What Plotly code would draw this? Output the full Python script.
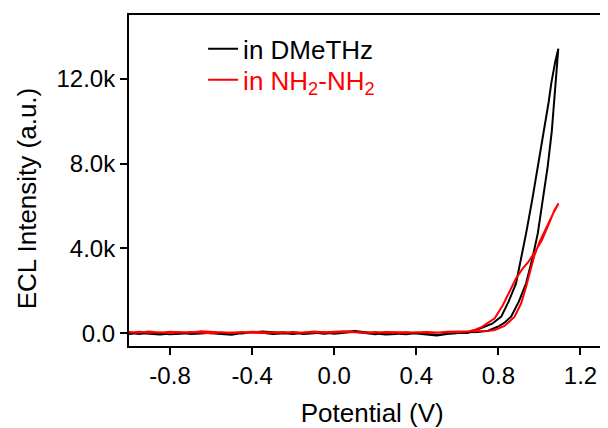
import plotly.graph_objects as go

# ---------------- data ----------------
# baseline potentials (V), ascending
base_v = [-1.0, -0.95, -0.9, -0.85, -0.8, -0.75, -0.7, -0.65, -0.6, -0.55,
          -0.5, -0.45, -0.4, -0.35, -0.3, -0.25, -0.2, -0.15, -0.1, -0.05,
          0.0, 0.05, 0.1, 0.15, 0.2, 0.25, 0.3, 0.35, 0.4, 0.45,
          0.5, 0.55, 0.6, 0.65]

# DMeTHz (black) – forward scan baseline, then rising part
dm_fwd_base = [20, -30, 40, 10, -50, -20, 30, 60, 0, -40,
               -70, 10, 40, 80, 50, 0, -30, 20, 40, -20,
               10, 60, 110, 50, -20, -60, -30, 30, -10, -70,
               -100, -40, 20, 50]
dm_fwd_rise_v = [0.70, 0.75, 0.80, 0.83, 0.862, 0.90, 0.935, 0.965, 0.992,
                 1.015, 1.040, 1.06, 1.073, 1.082, 1.092]
dm_fwd_rise_i = [60, 120, 320, 500, 784, 1500, 2353, 3500, 4706,
                 6200, 7840, 9500, 10980, 12235, 13410]
# reverse scan (descending potential)
dm_rev_fall_v = [1.077, 1.058, 1.045, 1.02, 0.992, 0.965, 0.935, 0.91, 0.886,
                 0.85, 0.814, 0.77, 0.717, 0.68]
dm_rev_fall_i = [12800, 11800, 10900, 9400, 7840, 6300, 4706, 3500, 2353,
                 1500, 784, 450, 235, 110]
dm_rev_base = [-40, 10, -20, -60, 0, 30, -30, -10, 20, -20,
               30, -10, 60, 20, -40, -10, 30, -30, 0, 40,
               -20, 30, 70, 10, -40, 20, -20, -50, 10, -40,
               -80, -20, 30, 10]

# NH2-NH2 (red)
hz_fwd_base = [60, 40, 80, 30, 70, 40, 20, 90, 60, 30,
               10, 40, 70, 50, 30, 60, 20, 40, 80, 50,
               70, 90, 60, 40, 30, 60, 50, 20, 40, 60,
               30, 70, 80, 100]
hz_fwd_rise_v = [0.70, 0.749, 0.782, 0.83, 0.879, 0.911, 0.935, 0.956,
                 0.975, 1.0, 1.04, 1.067, 1.093]
hz_fwd_rise_i = [100, 108, 155, 343, 781, 1412, 2193, 2979,
                 3650, 4300, 5150, 5650, 6120]
hz_rev_fall_v = [1.073, 1.05, 1.01, 0.975, 0.945, 0.919, 0.886, 0.854,
                 0.822, 0.782, 0.749, 0.72, 0.69]
hz_rev_fall_i = [5800, 5250, 4350, 3800, 3350, 3059, 2588, 1957,
                 1332, 706, 470, 300, 180]
hz_rev_base = [30, 70, 20, 50, 10, 40, 60, 30, 0, 50,
               20, 60, 30, 10, 40, 20, 60, 30, 50, 20,
               40, 70, 50, 30, 60, 20, 40, 10, 50, 30,
               20, 50, 60, 70]

x_tick_vals = [-0.8, -0.4, 0.0, 0.4, 0.8, 1.2]
x_tick_text = ["-0.8", "-0.4", "0.0", "0.4", "0.8", "1.2"]
y_tick_vals = [0, 4000, 8000, 12000]
y_tick_text = ["0.0", "4.0k", "8.0k", "12.0k"]

names = ["in DMeTHz",
         '<span style="color:#ff0000">in NH<sub>2</sub>-NH<sub>2</sub></span>']

# assemble closed CV loops
dm_x = base_v + dm_fwd_rise_v + dm_rev_fall_v + base_v[::-1]
dm_y = dm_fwd_base + dm_fwd_rise_i + dm_rev_fall_i + dm_rev_base[::-1]
hz_x = base_v + hz_fwd_rise_v + hz_rev_fall_v + base_v[::-1]
hz_y = hz_fwd_base + hz_fwd_rise_i + hz_rev_fall_i + hz_rev_base[::-1]

fig = go.Figure()
fig.add_trace(go.Scatter(x=dm_x, y=dm_y, mode="lines", name=names[0],
                         line=dict(color="#000000", width=2), legend="legend"))
fig.add_trace(go.Scatter(x=hz_x, y=hz_y, mode="lines", name=names[1],
                         line=dict(color="#ff0000", width=2), legend="legend2"))

axis_common = dict(showline=True, linecolor="black", linewidth=2, mirror=True,
                   ticks="outside", ticklen=7, tickwidth=2, tickcolor="black",
                   showgrid=False, zeroline=False,
                   tickfont=dict(size=24, color="black"))

# non-breaking padding (kept from trimming by a zero-width space) nudges the
# centred axis titles to where the reference has them
NB = "\u00a0"
ZW = "\u200b"
fig.update_xaxes(range=[-1.0, 1.3], tickvals=x_tick_vals, ticktext=x_tick_text,
                 title=dict(text=ZW + NB * 2 + "Potential (V)", font=dict(size=26), standoff=16),
                 **axis_common)
fig.update_yaxes(range=[-600, 15000], tickvals=y_tick_vals, ticktext=y_tick_text,
                 title=dict(text="ECL Intensity (a.u.)" + NB * 5 + ZW, font=dict(size=26), standoff=12),
                 **axis_common)

leg_common = dict(xanchor="left", yanchor="middle", bgcolor="rgba(0,0,0,0)",
                  borderwidth=0, font=dict(size=26, color="black"))

# page body adds an 8px offset, so the figure is 8px smaller on each leading side
fig.update_layout(
    width=600, height=420,
    margin=dict(l=121, r=5, t=6, b=82),
    paper_bgcolor="white", plot_bgcolor="white",
    font=dict(family="Liberation Sans, Arial, sans-serif", size=25, color="black"),
    showlegend=True,
    legend=dict(x=0.157, y=0.8976, **leg_common),
    legend2=dict(x=0.157, y=0.804, **leg_common),
)

fig.write_html("out.html")
